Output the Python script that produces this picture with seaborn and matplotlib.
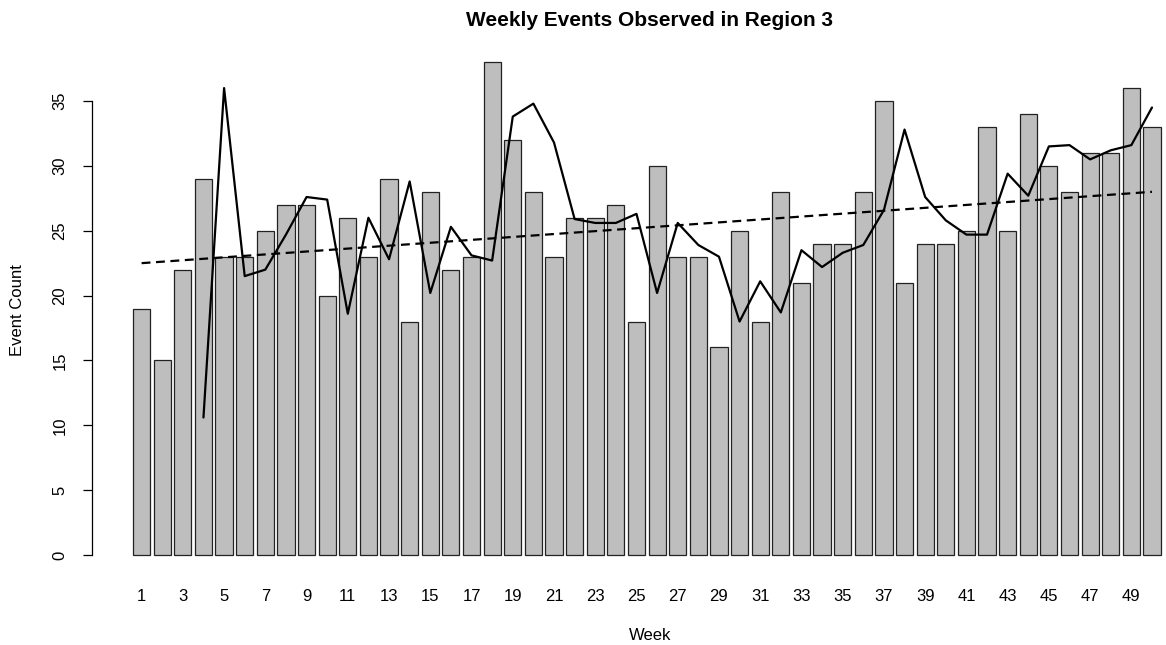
"""
Weekly event counts for region 3: bars per week, an overlaid weekly
series and a dashed linear trend, drawn in the look of an R barplot.
"""
import numpy as np
import matplotlib
matplotlib.use("Agg")
import matplotlib.pyplot as plt
import seaborn as sns

# ── Data ───────────────────────────────────────────────────────────────────────
weeks = list(range(1, 51))
counts = [19, 15, 22, 29, 23, 23, 25, 27, 27, 20,
          26, 23, 29, 18, 28, 22, 23, 38, 32, 28,
          23, 26, 26, 27, 18, 30, 23, 23, 16, 25,
          18, 28, 21, 24, 24, 28, 35, 21, 24, 24,
          25, 33, 25, 34, 30, 28, 31, 31, 36, 33]

line_weeks = list(range(4, 51))
line_vals = [10.6, 36.0, 21.5, 22.0, 24.7, 27.6, 27.4, 18.6, 26.0, 22.8,
             28.8, 20.2, 25.3, 23.1, 22.7, 33.8, 34.8, 31.8, 25.9, 25.6,
             25.6, 26.3, 20.2, 25.6, 23.9, 23.0, 18.0, 21.1, 18.7, 23.5,
             22.2, 23.3, 23.9, 26.6, 32.8, 27.6, 25.8, 24.7, 24.7, 29.4,
             27.7, 31.5, 31.6, 30.5, 31.2, 31.6, 34.5]

trend_weeks = [1, 50]
trend_vals = [22.5, 28.0]

tick_weeks = weeks[::2]
y_ticks = [0, 5, 10, 15, 20, 25, 30, 35]

TITLE = "Weekly Events Observed in Region 3"
BAR_GRAY = "#BEBEBE"

# ── Figure geometry (pixels) ───────────────────────────────────────────────────
W, H, DPI = 1166, 645, 100
AX_L, AX_R = 91.8, 1166.0
AX_T, AX_B = 42.4, 574.7

sns.set_theme(style="white")
plt.rcParams["font.family"] = ["Liberation Sans", "DejaVu Sans"]
plt.rcParams["text.color"] = "black"

fig = plt.figure(figsize=(W / DPI, H / DPI), dpi=DPI)
ax = fig.add_axes([AX_L / W, 1 - AX_B / H, (AX_R - AX_L) / W, (AX_B - AX_T) / H])

sns.barplot(x=weeks, y=counts, native_scale=True, width=1 / 1.2,
            color=BAR_GRAY, saturation=1, edgecolor="#222222",
            linewidth=0.9, ax=ax)
sns.lineplot(x=line_weeks, y=line_vals, color="black", linewidth=1.6,
             ax=ax)
ax.plot(trend_weeks, trend_vals, color="black", linewidth=1.6,
        linestyle=(0, (4, 2.5)))

# R-like coordinate ranges: 4% padding around the bars
px_per_week = 20.62
bar1_px = 141.6
ax.set_xlim(1 - (bar1_px - AX_L) / px_per_week,
            1 + (AX_R - bar1_px) / px_per_week)
ax.set_ylim(-1.52, 39.52)

for side in ("top", "right", "bottom"):
    ax.spines[side].set_visible(False)
ax.spines["left"].set_bounds(0, 35)
ax.spines["left"].set_color("black")
ax.spines["left"].set_linewidth(0.9)

ax.set_xticks(tick_weeks)
ax.set_xticklabels([str(w) for w in tick_weeks])
ax.set_yticks(y_ticks)
ax.set_yticklabels([str(v) for v in y_ticks], rotation=90, va="center")
ax.tick_params(axis="x", length=0, pad=10, labelsize=12, colors="black")
ax.tick_params(axis="y", length=6.5, width=0.9, pad=11, labelsize=12,
               colors="black", left=True)
ax.set_xlabel("")
ax.set_ylabel("")
ax.grid(False)

fig.text(650 / W, 1 - 635 / H, "Week", ha="center", va="center",
         fontsize=12, color="black")
fig.text(18 / W, 1 - 310 / H, "Event Count", ha="center", va="center",
         rotation=90, fontsize=12, color="black")
fig.text(650 / W, 1 - 20 / H, TITLE, ha="center", va="center",
         fontsize=15, fontweight="bold", color="black")

fig.savefig("out.png", dpi=DPI)
